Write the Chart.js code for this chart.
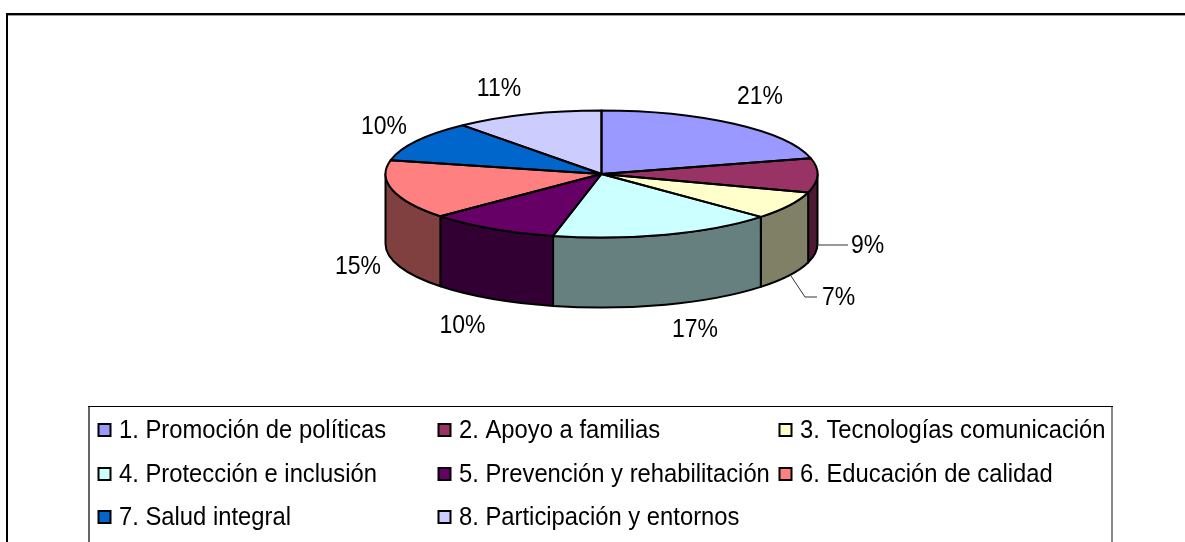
<!DOCTYPE html>
<html>
<head>
<meta charset="utf-8">
<style>
  html, body { margin: 0; padding: 0; background: #fff; overflow: hidden; }
  canvas { display: block; }
</style>
<script src="https://cdn.jsdelivr.net/npm/chart.js@4/dist/chart.umd.min.js"></script>
</head>
<body>
<canvas id="pie" width="1185" height="542"></canvas>
<script>
const categories = [
  '1. Promoción de políticas', '2. Apoyo a familias', '3. Tecnologías comunicación',
  '4. Protección e inclusión', '5. Prevención y rehabilitación', '6. Educación de calidad',
  '7. Salud integral', '8. Participación y entornos'
];
const values = [21, 8.7, 7.1, 16.8, 9.8, 15.1, 10.4, 11.1];
const topColors = ['#9999FF', '#993366', '#FFFFCC', '#CCFFFF', '#660066', '#FF8080', '#0066CC', '#CCCCFF'];
const sideColors = ['#4D4D80', '#4D1933', '#808066', '#668080', '#330033', '#804040', '#003366', '#666680'];

// percent labels: centre x, baseline y
const labelSpots = [[760, 104], [867.5, 253], [838.5, 305], [695, 337], [462.5, 333], [358, 274], [384, 134], [499, 96]];
const leaders = [[[817, 245], [848, 245]], [[791, 276], [805, 297], [817, 297]]];

const SQUASH = 63.5 / 216;
const DEPTH = 70;
const TEXT_STRETCH = 1.1;

function arcs(chart) {
  return chart.getDatasetMeta(0).data.map(a => a.getProps(['x', 'y', 'startAngle', 'endAngle', 'outerRadius'], true));
}

function tallText(ctx, text, x, y) {
  ctx.save();
  ctx.translate(x, y);
  ctx.scale(1, TEXT_STRETCH);
  ctx.fillText(text, 0, 0);
  ctx.restore();
}

const pie3d = {
  id: 'pie3d',
  beforeDraw(chart) {
    const ctx = chart.ctx;
    ctx.save();
    ctx.fillStyle = '#fff';
    ctx.fillRect(0, 0, chart.width, chart.height);
    // outer frame, only top and left are in the picture
    ctx.fillStyle = '#999';
    ctx.fillRect(8, 15, chart.width - 8, 1);
    ctx.fillStyle = '#000';
    ctx.fillRect(6, 13, chart.width - 6, 2);
    ctx.fillRect(6, 13, 2, chart.height - 13);
    ctx.restore();
  },
  beforeDatasetsDraw(chart) {
    const ctx = chart.ctx;
    ctx.save();
    ctx.lineWidth = 2;
    ctx.strokeStyle = '#000';
    ctx.lineJoin = 'round';
    arcs(chart).forEach((a, i) => {
      const from = Math.max(a.startAngle, 0), to = Math.min(a.endAngle, Math.PI);
      if (to <= from) return;
      const rx = a.outerRadius, ry = rx * SQUASH;
      ctx.beginPath();
      ctx.ellipse(a.x, a.y, rx, ry, 0, from, to);
      ctx.ellipse(a.x, a.y + DEPTH, rx, ry, 0, to, from, true);
      ctx.closePath();
      ctx.fillStyle = sideColors[i];
      ctx.fill();
      ctx.stroke();
    });
    ctx.restore();
    // flatten the round pie into the tilted top face
    const first = arcs(chart)[0];
    ctx.save();
    ctx.translate(first.x, first.y);
    ctx.scale(1, SQUASH);
    ctx.translate(-first.x, -first.y);
  },
  afterDatasetsDraw(chart) {
    const ctx = chart.ctx;
    ctx.restore();
    ctx.save();
    ctx.lineWidth = 2;
    ctx.strokeStyle = '#000';
    ctx.lineJoin = 'round';
    arcs(chart).forEach(a => {
      ctx.beginPath();
      ctx.moveTo(a.x, a.y);
      ctx.ellipse(a.x, a.y, a.outerRadius, a.outerRadius * SQUASH, 0, a.startAngle, a.endAngle);
      ctx.closePath();
      ctx.stroke();
    });
    // leader lines
    ctx.lineWidth = 1;
    ctx.strokeStyle = '#333';
    leaders.forEach(pts => {
      ctx.beginPath();
      pts.forEach((p, k) => k ? ctx.lineTo(p[0], p[1]) : ctx.moveTo(p[0], p[1]));
      ctx.stroke();
    });
    // percent labels
    ctx.fillStyle = '#000';
    ctx.font = '23px "Liberation Sans"';
    ctx.textAlign = 'center';
    values.forEach((v, i) => tallText(ctx, Math.round(v) + '%', labelSpots[i][0], labelSpots[i][1]));
    ctx.restore();
    drawLegend(chart);
  }
};

function drawLegend(chart) {
  const ctx = chart.ctx;
  const colX = [97, 437, 778], rowY = [438, 482, 525];
  ctx.save();
  ctx.fillStyle = '#666';
  ctx.fillRect(88, 406, 2, chart.height - 406);
  ctx.fillStyle = '#888';
  ctx.fillRect(1111, 406, 2, chart.height - 406);
  ctx.fillStyle = '#000';
  ctx.fillRect(88, 406, 1025, 1);
  ctx.font = '23.8px "Liberation Sans"';
  ctx.strokeStyle = '#000';
  ctx.lineWidth = 2;
  categories.forEach((name, i) => {
    const x = colX[i % 3], y = rowY[Math.floor(i / 3)];
    ctx.fillStyle = topColors[i];
    ctx.fillRect(x + 1.5, y - 14, 12, 12);
    ctx.strokeRect(x + 1.5, y - 14, 12, 12);
    ctx.fillStyle = '#000';
    tallText(ctx, name, x + 22, y);
  });
  ctx.restore();
}

new Chart(document.getElementById('pie'), {
  type: 'pie',
  data: {
    labels: categories,
    datasets: [{ data: values, backgroundColor: topColors, borderWidth: 0, clip: false }]
  },
  options: {
    responsive: false,
    animation: false,
    radius: 216,
    layout: { padding: { left: 18, right: 0, top: 0, bottom: 194 } },
    plugins: { legend: { display: false }, tooltip: { enabled: false } }
  },
  plugins: [pie3d]
});
</script>
</body>
</html>
